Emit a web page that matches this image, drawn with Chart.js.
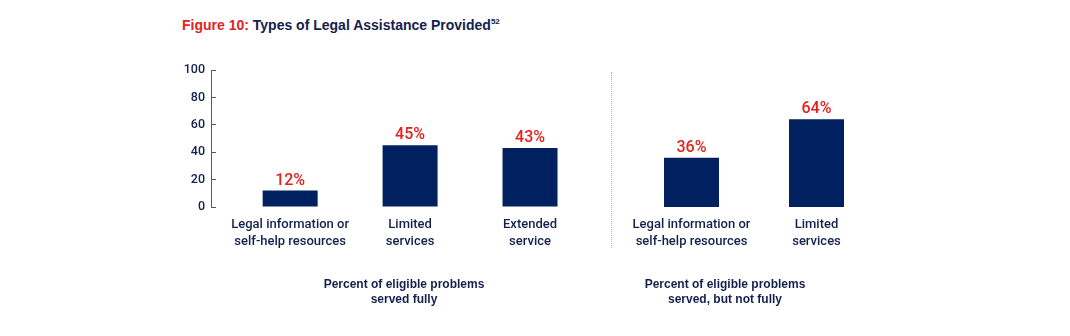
<!DOCTYPE html>
<html>
<head>
<meta charset="utf-8">
<script src="https://cdn.jsdelivr.net/npm/chart.js@4.4.1/dist/chart.umd.min.js"></script>
<style>
  html, body { margin: 0; padding: 0; background: #fff; }
  #wrap { position: relative; width: 1070px; height: 336px; overflow: hidden; font-family: "Liberation Sans", Arial, sans-serif; }
  canvas.layer { position: absolute; left: 0; top: 0; }
  #title { position: absolute; left: 182px; top: 17px; font-size: 14px; font-weight: bold; color: #14214d; white-space: nowrap; }
  #title .fig { color: #e3211e; }
  #title sup { font-size: 8px; vertical-align: 6px; line-height: 0; }
  .grp { position: absolute; top: 277px; width: 240px; text-align: center; font-size: 12px; font-weight: bold; color: #14214d; line-height: 15px; }
  #sep { position: absolute; left: 611px; top: 72px; height: 176px; width: 0; border-left: 1px dotted #b0b0b0; }
</style>
</head>
<body>
<div id="wrap">
  <div id="title"><span class="fig">Figure 10:</span> Types of Legal Assistance Provided<sup>52</sup></div>
  <div id="sep"></div>
  <canvas id="c1" class="layer" width="1070" height="336"></canvas>
  <canvas id="c2" class="layer" width="1070" height="336"></canvas>
  <div class="grp" id="g1"></div>
  <div class="grp" id="g2"></div>
</div>
<script>
// ---- data ----
const fullyCategories = [["Legal information or", "self-help resources"], ["Limited", "services"], ["Extended", "service"]];
const fullyValues = [12, 45, 43];
const partialCategories = [["Legal information or", "self-help resources"], ["Limited", "services"]];
const partialValues = [36, 64];
const yTickValues = [0, 20, 40, 60, 80, 100];
const groupTitles = [["Percent of eligible problems", "served fully"], ["Percent of eligible problems", "served, but not fully"]];

// ---- style ----
const NAVY = "#002060";
const TEXT = "#14214d";
const RED = "#e3211e";
const AXIS = "#5a5a5a";
const LABEL_FAMILY = "Roboto, 'Liberation Sans', Arial, sans-serif";

document.getElementById("g1").innerHTML = groupTitles[0].join("<br>");
document.getElementById("g2").innerHTML = groupTitles[1].join("<br>");
document.getElementById("g1").style.left = (404 - 120) + "px";
document.getElementById("g2").style.left = (725 - 120) + "px";

const valueLabels = {
  id: "valueLabels",
  afterDatasetsDraw(chart) {
    const ctx = chart.ctx;
    ctx.save();
    ctx.fillStyle = RED;
    ctx.font = "500 16px " + LABEL_FAMILY;
    ctx.textAlign = "center";
    ctx.textBaseline = "alphabetic";
    chart.data.datasets.forEach((ds, di) => {
      chart.getDatasetMeta(di).data.forEach((bar, i) => {
        const d = ds.data[i];
        const v = (d !== null && typeof d === "object") ? d.y : d;
        ctx.fillText(v + "%", bar.x, bar.y - 6);
      });
    });
    ctx.restore();
  }
};

const tickFont = { family: LABEL_FAMILY, size: 13, weight: 500, lineHeight: 1.3 };

// Chart 1: served fully (with y axis)
new Chart(document.getElementById("c1"), {
  type: "bar",
  data: {
    datasets: [{
      data: fullyValues.map((v, i) => ({ x: i, y: v })),
      backgroundColor: NAVY,
      barPercentage: 55 / 120,
      categoryPercentage: 1
    }]
  },
  options: {
    responsive: false,
    animation: false,
    events: [],
    layout: { padding: { left: 171, right: 480, top: 70, bottom: 79 } },
    plugins: { legend: { display: false }, tooltip: { enabled: false } },
    scales: {
      x: {
        type: "linear",
        offset: false,
        min: -0.66,
        max: 2.5,
        afterBuildTicks: (axis) => { axis.ticks = fullyCategories.map((_, i) => ({ value: i })); },
        afterFit: (s) => { s.height = 50; },
        grid: { display: false },
        border: { display: false },
        ticks: {
          autoSkip: false,
          maxRotation: 0,
          padding: 1,
          color: TEXT,
          font: tickFont,
          callback: (v) => fullyCategories[v]
        }
      },
      y: {
        min: 0,
        max: 100,
        afterBuildTicks: (axis) => { axis.ticks = yTickValues.map(v => ({ value: v })); },
        afterFit: (s) => { s.width = 40; },
        grid: { drawOnChartArea: false, drawTicks: true, tickLength: -5, color: AXIS, lineWidth: 1 },
        border: { display: true, color: AXIS, width: 1 },
        ticks: { padding: 11, color: TEXT, font: { family: LABEL_FAMILY, size: 12.5, weight: 500 } }
      }
    }
  },
  plugins: [valueLabels]
});

// Chart 2: served, but not fully
new Chart(document.getElementById("c2"), {
  type: "bar",
  data: {
    labels: partialCategories,
    datasets: [{
      data: partialValues,
      backgroundColor: NAVY,
      barPercentage: 55 / 125,
      categoryPercentage: 1
    }]
  },
  options: {
    responsive: false,
    animation: false,
    events: [],
    layout: { padding: { left: 629, right: 191, top: 70, bottom: 79 } },
    plugins: { legend: { display: false }, tooltip: { enabled: false } },
    scales: {
      x: {
        afterFit: (s) => { s.height = 50; },
        grid: { display: false },
        border: { display: false },
        ticks: { autoSkip: false, maxRotation: 0, padding: 1, color: TEXT, font: tickFont }
      },
      y: { display: false, min: 0, max: 100 }
    }
  },
  plugins: [valueLabels]
});
</script>
</body>
</html>
